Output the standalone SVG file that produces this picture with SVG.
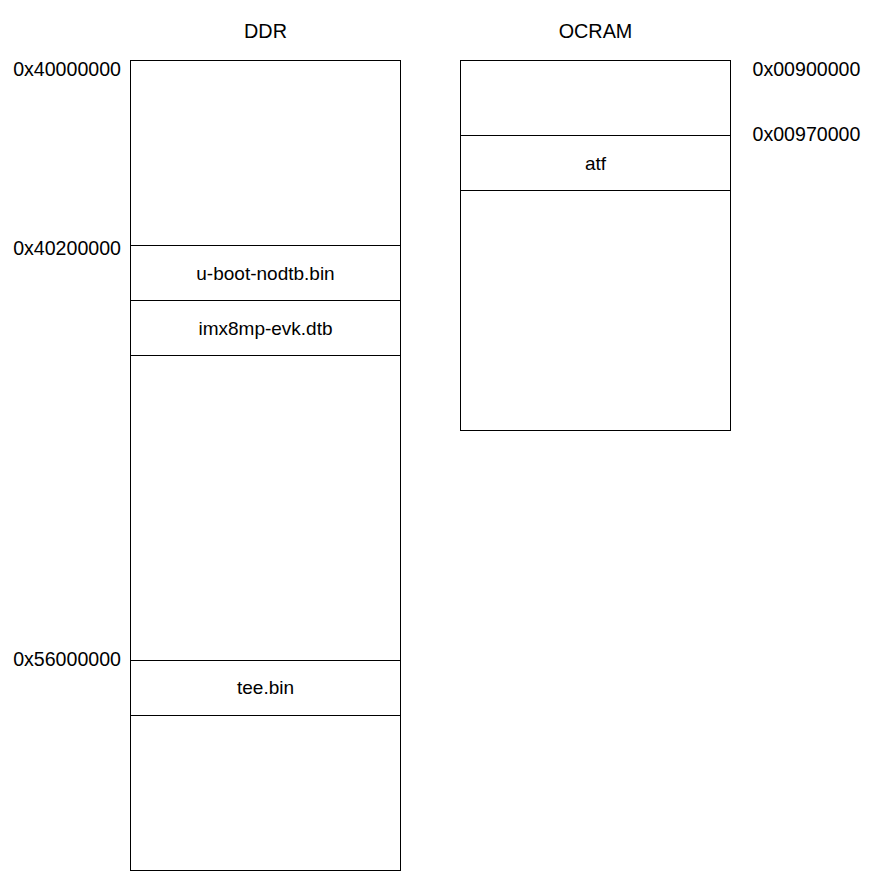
<svg xmlns="http://www.w3.org/2000/svg" width="872" height="881" viewBox="0 0 872 881">
<style>
.box{fill:#fff;stroke:#000;stroke-width:1}
.t{font-family:"Liberation Sans",Arial,sans-serif;font-size:19px;fill:#000}
.a{font-size:19.6px}
.h{font-size:19.8px}
.c{text-anchor:middle}
.r{text-anchor:end}
</style>
<rect width="872" height="881" fill="#fff"/>
<g id="titles">
<text class="t h c" x="265.5" y="38.3">DDR</text>
<text class="t h c" x="595.5" y="38.3">OCRAM</text>
</g>
<g id="ddr">
<rect id="ddr-top" class="box" x="130.5" y="60.5" width="270" height="185"/>
<g id="ddr-uboot"><rect class="box" x="130.5" y="245.5" width="270" height="55"/><text class="t c" x="265.5" y="279.5">u-boot-nodtb.bin</text></g>
<g id="ddr-dtb"><rect class="box" x="130.5" y="300.5" width="270" height="55"/><text class="t c" x="265.5" y="334.5">imx8mp-evk.dtb</text></g>
<rect id="ddr-mid" class="box" x="130.5" y="355.5" width="270" height="305"/>
<g id="ddr-tee"><rect class="box" x="130.5" y="660.5" width="270" height="55"/><text class="t c" x="265.5" y="694">tee.bin</text></g>
<rect id="ddr-bottom" class="box" x="130.5" y="715.5" width="270" height="155"/>
</g>
<g id="ocram">
<rect id="ocram-top" class="box" x="460.5" y="60.5" width="270" height="75"/>
<g id="ocram-atf"><rect class="box" x="460.5" y="135.5" width="270" height="55"/><text class="t c" x="595.5" y="169.5">atf</text></g>
<rect id="ocram-bottom" class="box" x="460.5" y="190.5" width="270" height="240"/>
</g>
<g id="addresses">
<text class="t a r" x="121" y="75.5">0x40000000</text>
<text class="t a r" x="121" y="255">0x40200000</text>
<text class="t a r" x="121" y="666">0x56000000</text>
<text class="t a" x="752.5" y="76">0x00900000</text>
<text class="t a" x="752.5" y="141">0x00970000</text>
</g>
<g id="connectors"></g>
</svg>
